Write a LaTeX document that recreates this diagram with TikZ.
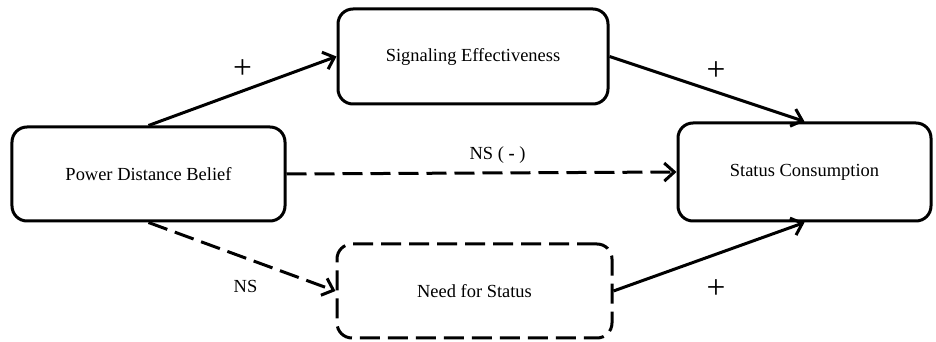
\documentclass[tikz,border=0pt]{standalone}
\usepackage{fontspec}
\setmainfont{Liberation Serif}
\usetikzlibrary{arrows.meta}

\begin{document}
\begin{tikzpicture}[
   boite/.style={draw, line width=0.06cm, rounded corners=0.3cm, align=center,
      font=\fontsize{10.5}{12}\selectfont},
   fleche/.style={line width=0.06cm, -{Straight Barb[length=2mm,width=3.6mm]}},
   pointille/.style={dash pattern=on 0.4cm off 0.16cm},
   signe/.style={font=\fontsize{19}{22}\selectfont, inner sep=0pt},
   texte/.style={font=\fontsize{10.5}{12}\selectfont, inner sep=0pt}
]
   % Cadre de l'image
   \useasboundingbox (0,0) rectangle (18.72,6.84);

   % Les quatre boites
   \node[boite, minimum width=5.46cm, minimum height=1.88cm] (pdb) at (2.97,3.36) {Power Distance Belief};
   \node[boite, minimum width=5.40cm, minimum height=1.90cm] (sig) at (9.46,5.71) {Signaling Effectiveness};
   \node[boite, minimum width=5.06cm, minimum height=1.96cm] (sc) at (16.09,3.40) {Status Consumption};
   \node[boite, pointille, minimum width=5.50cm, minimum height=1.88cm] (nfs) at (9.49,1.02) {Need for Status};

   % Les fleches pleines
   \draw[fleche] (pdb.north) -- (sig.west)
      node[midway, yshift=0.43cm, signe] {+};
   \draw[fleche] (sig.east) -- (sc.north)
      node[midway, xshift=0.18cm, yshift=0.36cm, signe] {+};
   \draw[fleche] (nfs.east) -- (sc.south)
      node[midway, xshift=0.14cm, yshift=-0.64cm, signe] {+};

   % Les fleches en pointilles
   \draw[fleche, pointille] (pdb.east) -- (sc.west)
      node[midway, xshift=0.32cm, yshift=0.36cm, texte] {NS ( {\bfseries -} )};
   \draw[fleche, pointille] (pdb.south) -- (nfs.west)
      node[midway, xshift=0.07cm, yshift=-0.6cm, texte] {NS};
\end{tikzpicture}
\end{document}
